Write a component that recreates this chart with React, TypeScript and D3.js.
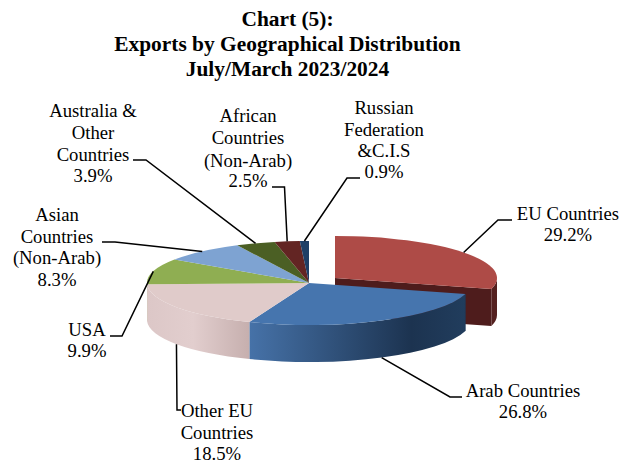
import React from "react";
import * as d3 from "d3";

const categories = ["EU Countries", "Arab Countries", "Other EU Countries", "USA", "Asian Countries (Non-Arab)", "Australia & Other Countries", "African Countries (Non-Arab)", "Russian Federation &C.I.S"];
const shares = [29.2, 26.8, 18.5, 9.9, 8.3, 3.9, 2.5, 0.9];
const topColors = ["#AE4B47", "#4675AE", "#E0CBCA", "#8FAE52", "#7EA3D2", "#4B5F24", "#632523", "#1F3F66"];
const titleLines = ["Chart (5):", "Exports by Geographical Distribution", "July/March 2023/2024"];
const labelLines = [
  ["EU Countries", "29.2%"],
  ["Arab Countries", "26.8%"],
  ["Other EU", "Countries", "18.5%"],
  ["USA", "9.9%"],
  ["Asian", "Countries", "(Non-Arab)", "8.3%"],
  ["Australia &", "Other", "Countries", "3.9%"],
  ["African", "Countries", "(Non-Arab)", "2.5%"],
  ["Russian", "Federation", "&C.I.S", "0.9%"],
];

const W = 632, H = 464;
const cx = 309, cy = 283, rx = 162, ry = 42, depth = 37;
const explodeDx = 26, explodeDy = -5;
const fontFamily = "'Liberation Serif','Times New Roman',serif";
const labelSize = 18.7;

// label layout: centre x, baselines, leader elbow points (label end, elbow)
const labelLayout = [
  { x: 568, ys: [220, 241], leader: [[512, 220], [498, 220]], wall: false },
  { x: 523, ys: [397, 418], leader: [[462, 397], [450, 397]], wall: true },
  { x: 217, ys: [417, 439, 460], leader: [[181, 410], [177, 410]], wall: true },
  { x: 87, ys: [336, 357], leader: [[110, 336], [122, 336]], wall: false },
  { x: 57, ys: [221, 243, 264, 286], leader: [[102, 242], [115, 242]], wall: false },
  { x: 93, ys: [117, 139, 161, 182], leader: [[133, 160], [146, 160]], wall: false },
  { x: 248, ys: [122, 144, 167, 187], leader: [[272, 187], [284.5, 187]], wall: false },
  { x: 384, ys: [114, 136, 157, 178], leader: [[360, 178], [347, 178]], wall: false },
];

const pie = d3.pie<number>().sort(null).startAngle(0).endAngle(2 * Math.PI);
const arcs = pie(shares);
const arcGen = d3.arc<d3.PieArcDatum<number>>().innerRadius(0).outerRadius(rx);
const px = (a: number) => rx * Math.sin(a);
const py = (a: number) => -ry * Math.cos(a);

function wallPath(a0: number, a1: number, ox: number, oy: number) {
  const s = Math.max(a0, Math.PI / 2), e = Math.min(a1, 1.5 * Math.PI);
  const x0 = ox + px(s), y0 = oy + py(s), x1 = ox + px(e), y1 = oy + py(e);
  return `M${x0},${y0}A${rx},${ry} 0 0 1 ${x1},${y1}L${x1},${y1 + depth}A${rx},${ry} 0 0 0 ${x0},${y0 + depth}Z`;
}

export default function App() {
  const eu = arcs[0];
  const ex = cx + explodeDx, ey = cy + explodeDy;
  const euTipX = ex + px(eu.endAngle), euTipY = ey + py(eu.endAngle);
  const blue = arcs[1], pink = arcs[2];
  const bx0 = cx + px(blue.endAngle), bx1 = cx + px(blue.startAngle);
  return (
    <svg width={W} height={H} viewBox={`0 0 ${W} ${H}`} style={{ position: "absolute", left: 0, top: 0, display: "block", background: "#fff" }}>
      <defs>
        <linearGradient id="blueWall" gradientUnits="userSpaceOnUse" x1={bx0} x2={bx1} y1={0} y2={0}>
          <stop offset="0" stopColor="#4672A8" />
          <stop offset="0.75" stopColor="#1C3350" />
          <stop offset="1" stopColor="#213D5D" />
        </linearGradient>
        <linearGradient id="pinkWall" gradientUnits="userSpaceOnUse" x1={cx - rx} x2={bx0} y1={0} y2={0}>
          <stop offset="0" stopColor="#DCC7C7" />
          <stop offset="0.45" stopColor="#E2CECE" />
          <stop offset="1" stopColor="#C6AFAE" />
        </linearGradient>
      </defs>

      {/* exploded slice: walls then top */}
      <path d={`M${ex},${ey}L${euTipX},${euTipY}L${euTipX},${euTipY + depth}L${ex},${ey + depth}Z`} fill="#4E1C1C" />
      <path d={wallPath(eu.startAngle, eu.endAngle, ex, ey)} fill="#54201F" />
      <path d={arcGen(eu)!} transform={`translate(${ex},${ey}) scale(1,${ry / rx})`} fill={topColors[0]} />

      {/* main body walls */}
      <path d={wallPath(blue.startAngle, blue.endAngle, cx, cy)} fill="url(#blueWall)" />
      <path d={`M${bx1},${cy + py(blue.startAngle)}v${depth}`} stroke="#1F3A58" strokeWidth={0.5} />
      <path d={wallPath(pink.startAngle, pink.endAngle, cx, cy)} fill="url(#pinkWall)" />
      <path d={wallPath(arcs[3].startAngle, arcs[3].endAngle, cx, cy)} fill="#8FAE52" />

      {/* main body tops */}
      {arcs.slice(1).map((a, i) => (
        <path key={i} d={arcGen(a)!} transform={`translate(${cx},${cy}) scale(1,${ry / rx})`} fill={topColors[i + 1]} />
      ))}

      {/* leaders */}
      {arcs.map((a, i) => {
        const mid = (a.startAngle + a.endAngle) / 2;
        const l = labelLayout[i];
        const ox = i === 0 ? ex : cx, oy = i === 0 ? ey : cy;
        const end: [number, number] = [ox + px(mid), oy + py(mid) + (l.wall ? depth : 0)];
        const pts = [...l.leader, end] as [number, number][];
        return <path key={i} d={d3.line()(pts)!} fill="none" stroke="#000" strokeWidth={1.5} />;
      })}

      {/* labels */}
      <g fontFamily={fontFamily} fontSize={labelSize} fill="#000" textAnchor="middle">
        {labelLines.map((lines, i) => lines.map((t, j) => (
          <text key={`${i}-${j}`} x={labelLayout[i].x} y={labelLayout[i].ys[j]}>{t}</text>
        )))}
      </g>

      {/* title */}
      <g fontFamily={fontFamily} fontSize={21.4} fontWeight="bold" fill="#000" textAnchor="middle">
        {titleLines.map((t, i) => (
          <text key={i} x={287.5} y={[26, 51, 76][i]}>{t}</text>
        ))}
      </g>
    </svg>
  );
}
